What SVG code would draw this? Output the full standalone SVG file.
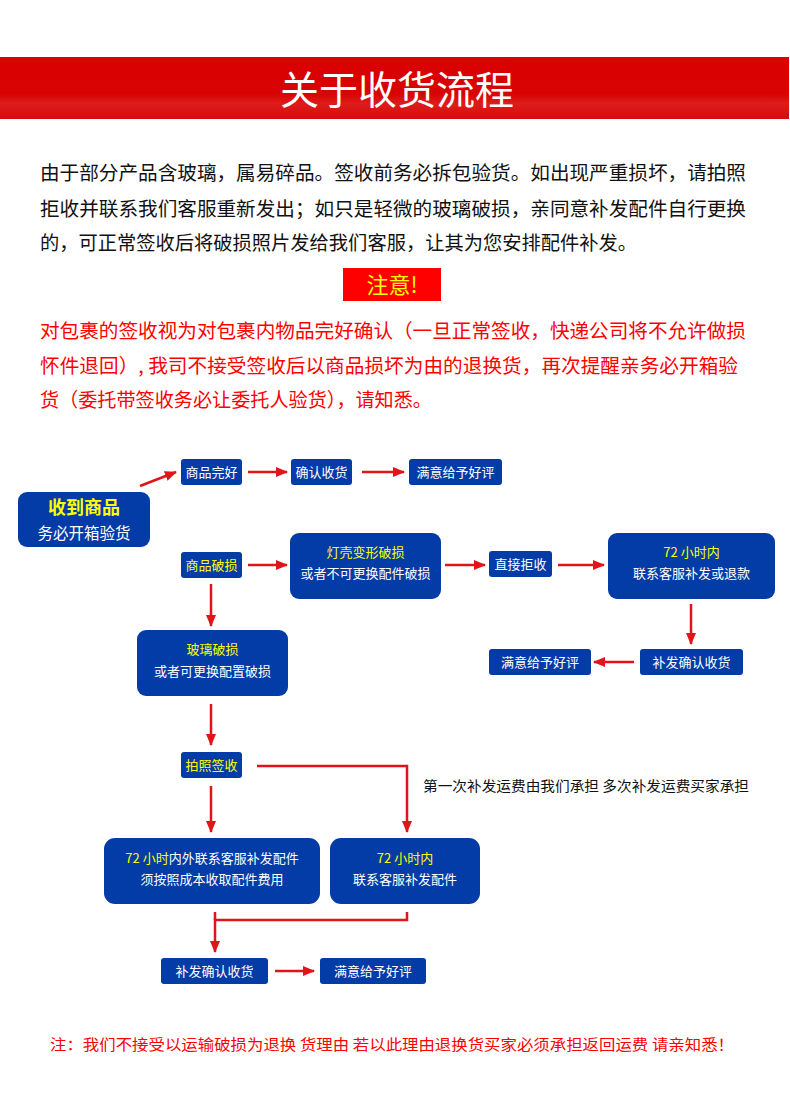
<svg xmlns="http://www.w3.org/2000/svg" width="790" height="1097" viewBox="0 0 790 1097">
<defs>
<linearGradient id="hdr" x1="0" y1="0" x2="0" y2="1">
<stop offset="0" stop-color="#d90000"/>
<stop offset="0.6" stop-color="#d80404"/>
<stop offset="0.75" stop-color="#de1c1c"/>
<stop offset="1" stop-color="#d70a0a"/>
</linearGradient>
<marker id="ah" viewBox="0 0 12 10" refX="11" refY="5" markerWidth="12" markerHeight="10" markerUnits="userSpaceOnUse" orient="auto">
<path d="M0,0 L12,5 L0,10 Z" fill="#e01419"/>
</marker>
<style>
.t{font-family:"Noto Sans CJK SC","Noto Sans",sans-serif}
.b{fill:#033ca6}
.w{fill:#ffffff;font-size:13px}
.y{fill:#ffff00;font-size:13px}
.l{fill:none;stroke:#e01419;stroke-width:2.5}
.p{fill:#111111;font-size:19.5px}
.r{fill:#ff0000;font-size:19.5px}
</style>
</defs>
<rect width="790" height="1097" fill="#ffffff"/>
<rect x="0" y="57" width="789" height="62" fill="url(#hdr)"/>
<text class="t" x="397" y="104" text-anchor="middle" font-size="39" fill="#ffffff">关于收货流程</text>

<g class="t">
<text class="p" x="40" y="180" textLength="706" lengthAdjust="spacingAndGlyphs">由于部分产品含玻璃，属易碎品。签收前务必拆包验货。如出现严重损坏，请拍照</text>
<text class="p" x="40" y="216" textLength="706" lengthAdjust="spacingAndGlyphs">拒收并联系我们客服重新发出；如只是轻微的玻璃破损，亲同意补发配件自行更换</text>
<text class="p" x="40" y="250" textLength="597" lengthAdjust="spacingAndGlyphs">的，可正常签收后将破损照片发给我们客服，让其为您安排配件补发。</text>
</g>

<rect x="343" y="268" width="98" height="33" fill="#ff0000"/>
<text class="t" x="392" y="293" text-anchor="middle" font-size="22" fill="#ffff00">注意!</text>

<g class="t">
<text class="r" x="40" y="338" textLength="706" lengthAdjust="spacingAndGlyphs">对包裹的签收视为对包裹内物品完好确认（一旦正常签收，快递公司将不允许做损</text>
<text class="r" x="40" y="373" textLength="698" lengthAdjust="spacingAndGlyphs">怀件退回）, 我司不接受签收后以商品损坏为由的退换货，再次提醒亲务必开箱验</text>
<text class="r" x="40" y="407" textLength="392" lengthAdjust="spacingAndGlyphs">货（委托带签收务必让委托人验货），请知悉。</text>
</g>

<g id="connectors">
<line class="l" x1="140" y1="486" x2="176" y2="472" marker-end="url(#ah)"/>
<line class="l" x1="248" y1="472" x2="287" y2="472" marker-end="url(#ah)"/>
<line class="l" x1="362" y1="472" x2="404" y2="472" marker-end="url(#ah)"/>
<line class="l" x1="248" y1="565" x2="287" y2="565" marker-end="url(#ah)"/>
<line class="l" x1="445" y1="565" x2="485" y2="565" marker-end="url(#ah)"/>
<line class="l" x1="558" y1="565" x2="604" y2="565" marker-end="url(#ah)"/>
<line class="l" x1="691" y1="604" x2="691" y2="644" marker-end="url(#ah)"/>
<line class="l" x1="634" y1="662" x2="594" y2="662" marker-end="url(#ah)"/>
<line class="l" x1="211" y1="584" x2="211" y2="626" marker-end="url(#ah)"/>
<line class="l" x1="211" y1="704" x2="211" y2="745" marker-end="url(#ah)"/>
<line class="l" x1="211" y1="786" x2="211" y2="832" marker-end="url(#ah)"/>
<polyline class="l" points="257,766 407,766 407,832" marker-end="url(#ah)"/>
<polyline class="l" points="407,912 407,920 215,920 215,952" marker-end="url(#ah)"/>
<line class="l" x1="215" y1="912" x2="215" y2="920"/>
<line class="l" x1="275" y1="971" x2="314" y2="971" marker-end="url(#ah)"/>
</g>

<g id="n-receive" class="t">
<rect class="b" x="18" y="492" width="132" height="55" rx="9"/>
<text x="84" y="514" text-anchor="middle" font-size="18" font-weight="bold" fill="#ffff00">收到商品</text>
<text x="84" y="539" text-anchor="middle" font-size="15.5" fill="#ffffff">务必开箱验货</text>
</g>
<g id="n-good" class="t">
<rect class="b" x="181" y="459" width="61" height="26" rx="3"/>
<text class="w" x="211.5" y="477" text-anchor="middle">商品完好</text>
</g>
<g id="n-confirm" class="t">
<rect class="b" x="291" y="459" width="61" height="26" rx="3"/>
<text class="w" x="321.5" y="477" text-anchor="middle">确认收货</text>
</g>
<g id="n-praise1" class="t">
<rect class="b" x="409" y="459" width="93" height="26" rx="3"/>
<text class="w" x="455.5" y="477" text-anchor="middle">满意给予好评</text>
</g>
<g id="n-damaged" class="t">
<rect class="b" x="181" y="552" width="61" height="26" rx="3"/>
<text class="y" x="211.5" y="570" text-anchor="middle">商品破损</text>
</g>
<g id="n-shell" class="t">
<rect class="b" x="290" y="533" width="151" height="66" rx="9"/>
<text class="y" x="365.5" y="557" text-anchor="middle">灯壳变形破损</text>
<text class="w" x="365.5" y="578" text-anchor="middle">或者不可更换配件破损</text>
</g>
<g id="n-reject" class="t">
<rect class="b" x="489" y="551" width="63" height="26" rx="3"/>
<text class="w" x="520.5" y="569" text-anchor="middle">直接拒收</text>
</g>
<g id="n-72a" class="t">
<rect class="b" x="608" y="533" width="167" height="66" rx="9"/>
<text class="y" x="691.5" y="557" text-anchor="middle">72 小时内</text>
<text class="w" x="691.5" y="578" text-anchor="middle">联系客服补发或退款</text>
</g>
<g id="n-resend1" class="t">
<rect class="b" x="640" y="649" width="103" height="26" rx="3"/>
<text class="w" x="691.5" y="667" text-anchor="middle">补发确认收货</text>
</g>
<g id="n-praise2" class="t">
<rect class="b" x="489" y="649" width="102" height="26" rx="3"/>
<text class="w" x="540" y="667" text-anchor="middle">满意给予好评</text>
</g>
<g id="n-glass" class="t">
<rect class="b" x="137" y="630" width="151" height="66" rx="9"/>
<text class="y" x="212.5" y="654" text-anchor="middle">玻璃破损</text>
<text class="w" x="212.5" y="676" text-anchor="middle">或者可更换配置破损</text>
</g>
<g id="n-photo" class="t">
<rect class="b" x="181" y="752" width="61" height="26" rx="3"/>
<text class="y" x="211.5" y="770" text-anchor="middle">拍照签收</text>
</g>
<text class="t" x="423" y="791" font-size="14" fill="#111111" textLength="326" lengthAdjust="spacingAndGlyphs">第一次补发运费由我们承担 多次补发运费买家承担</text>
<g id="n-72out" class="t">
<rect class="b" x="104" y="838" width="216" height="66" rx="11"/>
<text x="212" y="863" text-anchor="middle" font-size="13"><tspan fill="#ffff00">72 小时</tspan><tspan fill="#ffffff">内外联系客服补发配件</tspan></text>
<text class="w" x="212" y="884" text-anchor="middle">须按照成本收取配件费用</text>
</g>
<g id="n-72b" class="t">
<rect class="b" x="330" y="838" width="150" height="66" rx="11"/>
<text class="y" x="405" y="863" text-anchor="middle">72 小时内</text>
<text class="w" x="405" y="884" text-anchor="middle">联系客服补发配件</text>
</g>
<g id="n-resend2" class="t">
<rect class="b" x="161" y="958" width="107" height="26" rx="3"/>
<text class="w" x="214.5" y="976" text-anchor="middle">补发确认收货</text>
</g>
<g id="n-praise3" class="t">
<rect class="b" x="320" y="958" width="106" height="26" rx="3"/>
<text class="w" x="373" y="976" text-anchor="middle">满意给予好评</text>
</g>

<text class="t" x="50" y="1050" font-size="15" fill="#ff0000" textLength="684" lengthAdjust="spacingAndGlyphs">注：我们不接受以运输破损为退换 货理由 若以此理由退换货买家必须承担返回运费 请亲知悉！</text>
</svg>
